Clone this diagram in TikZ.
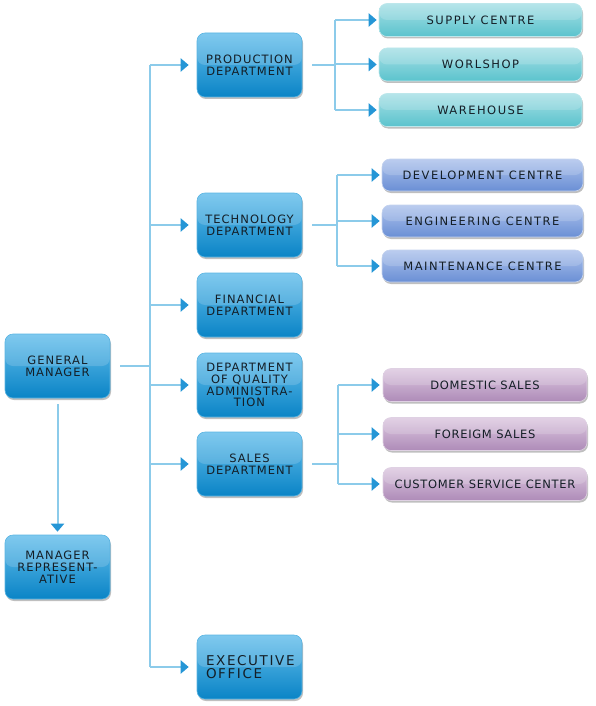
\documentclass[tikz,border=0pt]{standalone}
\usepackage{fontspec}
\newfontfamily\lblA[LetterSpace=9]{DejaVu Sans}
\newfontfamily\lblB[LetterSpace=13]{DejaVu Sans}
\newfontfamily\lblC[LetterSpace=6]{DejaVu Sans}
\newfontfamily\lblD[LetterSpace=12]{DejaVu Sans}
\usetikzlibrary{arrows.meta,shadows}
\definecolor{lnc}{HTML}{8CCBEA}
\definecolor{tipc}{HTML}{2596D6}
\definecolor{txt}{HTML}{141E26}
\definecolor{btop}{HTML}{66BFEC}
\definecolor{bmid}{HTML}{2A9DD9}
\definecolor{bbot}{HTML}{0A84C6}
\definecolor{bbord}{HTML}{5AB4E2}
\definecolor{ttop}{HTML}{A8E0E6}
\definecolor{tmid}{HTML}{6ECBD4}
\definecolor{tbot}{HTML}{5BC3CD}
\definecolor{vtop}{HTML}{AEC3EC}
\definecolor{vmid}{HTML}{7B9DDB}
\definecolor{vbot}{HTML}{6A8FD5}
\definecolor{ptop}{HTML}{DDC9E0}
\definecolor{pmid}{HTML}{BC9CC4}
\definecolor{pbot}{HTML}{AE8BB8}
\tikzset{
  base/.style={rounded corners=8pt, text=txt, line width=.6pt,
    drop shadow={shadow xshift=1pt,shadow yshift=-2pt,opacity=.25,fill=black},
    path picture={\fill[white,opacity=.16] (path picture bounding box.north west) rectangle (path picture bounding box.east);}},
  dept/.style={base, draw=bbord, top color=btop, middle color=bmid, bottom color=bbot,
    minimum width=105pt, minimum height=64pt, inner sep=2pt, align=center,
    font=\lblA\fontsize{11.5}{11.8}\selectfont},
  execbox/.style={base, draw=bbord, top color=btop, middle color=bmid, bottom color=bbot,
    minimum height=64pt, text width=87pt, inner xsep=9pt, align=left,
    font=\lblD\fontsize{13.5}{13.3}\selectfont},
  tealbox/.style={base, draw=white!60!tbot, top color=ttop, middle color=tmid, bottom color=tbot,
    minimum width=203pt, minimum height=33pt, inner sep=1pt, font=\lblB\fontsize{11.5}{12}\selectfont},
  techbox/.style={base, draw=white!60!vbot, top color=vtop, middle color=vmid, bottom color=vbot,
    minimum width=201pt, minimum height=32pt, inner sep=1pt, font=\lblB\fontsize{11.5}{12}\selectfont},
  salebox/.style={base, draw=white!60!pbot, top color=ptop, middle color=pmid, bottom color=pbot,
    minimum width=204pt, minimum height=33pt, inner sep=1pt, font=\lblC\fontsize{11.5}{12}\selectfont},
  ln/.style={draw=lnc, line width=2pt},
  arr/.style={ln, -{Triangle[length=8pt,width=13pt,fill=tipc,color=tipc]}},
}
\begin{document}
\begin{tikzpicture}[x=1pt,y=-1pt]
\useasboundingbox (0,0) rectangle (596,706);
% left column
\node[dept] (gm) at (57.5,366) {GENERAL\\MANAGER};
\node[dept] (mr) at (57.5,567) {MANAGER\\REPRESENT-\\ATIVE};
% departments
\node[dept] (prod) at (249.5,65) {PRODUCTION\\DEPARTMENT};
\node[dept] (tech) at (249.5,225) {TECHNOLOGY\\DEPARTMENT};
\node[dept] (fin) at (249.5,305) {FINANCIAL\\DEPARTMENT};
\node[dept] (qual) at (249.5,385) {DEPARTMENT\\OF QUALITY\\ADMINISTRA-\\TION};
\node[dept] (sales) at (249.5,464) {SALES\\DEPARTMENT};
\node[execbox] (exec) at (249.5,667) {EXECUTIVE\\OFFICE};
% production units
\node[tealbox] (sup) at (480.5,20) {SUPPLY CENTRE};
\node[tealbox] (work) at (480.5,64.5) {WORLSHOP};
\node[tealbox] (ware) at (480.5,110) {WAREHOUSE};
% technology units
\node[techbox] (dev) at (482.5,175) {DEVELOPMENT CENTRE};
\node[techbox] (eng) at (482.5,221) {ENGINEERING CENTRE};
\node[techbox] (mnt) at (482.5,266) {MAINTENANCE CENTRE};
% sales units
\node[salebox] (dom) at (485,385) {DOMESTIC SALES};
\node[salebox] (for) at (485,434) {FOREIGM SALES};
\node[salebox] (cus) at (485,484) {CUSTOMER SERVICE CENTER};
% junction columns
\coordinate (trunk) at (150,0);
\coordinate (pb) at (335,0);
\coordinate (tb) at (337,0);
\coordinate (sb) at (338,0);
% general manager links
\draw[ln, shorten <=10pt] (gm.east) -- (trunk |- gm.east);
\draw[arr, shorten <=6pt, shorten >=3pt] (gm.south) -- (mr.north);
\draw[ln] (trunk |- prod.west) -- (trunk |- exec.west);
\foreach \d in {prod,tech,fin,qual,sales,exec}
  \draw[arr, shorten >=8pt] (trunk |- \d.west) -- (\d.west);
% production branch
\draw[ln, shorten <=10pt] (prod.east) -- (pb |- prod.east);
\draw[ln] (pb |- sup.west) -- (pb |- ware.west);
\foreach \d in {sup,work,ware}
  \draw[arr, shorten >=2pt] (pb |- \d.west) -- (\d.west);
% technology branch
\draw[ln, shorten <=10pt] (tech.east) -- (tb |- tech.east);
\draw[ln] (tb |- dev.west) -- (tb |- mnt.west);
\foreach \d in {dev,eng,mnt}
  \draw[arr, shorten >=2pt] (tb |- \d.west) -- (\d.west);
% sales branch
\draw[ln, shorten <=10pt] (sales.east) -- (sb |- sales.east);
\draw[ln] (sb |- dom.west) -- (sb |- cus.west);
\foreach \d in {dom,for,cus}
  \draw[arr, shorten >=3pt] (sb |- \d.west) -- (\d.west);
\end{tikzpicture}
\end{document}
